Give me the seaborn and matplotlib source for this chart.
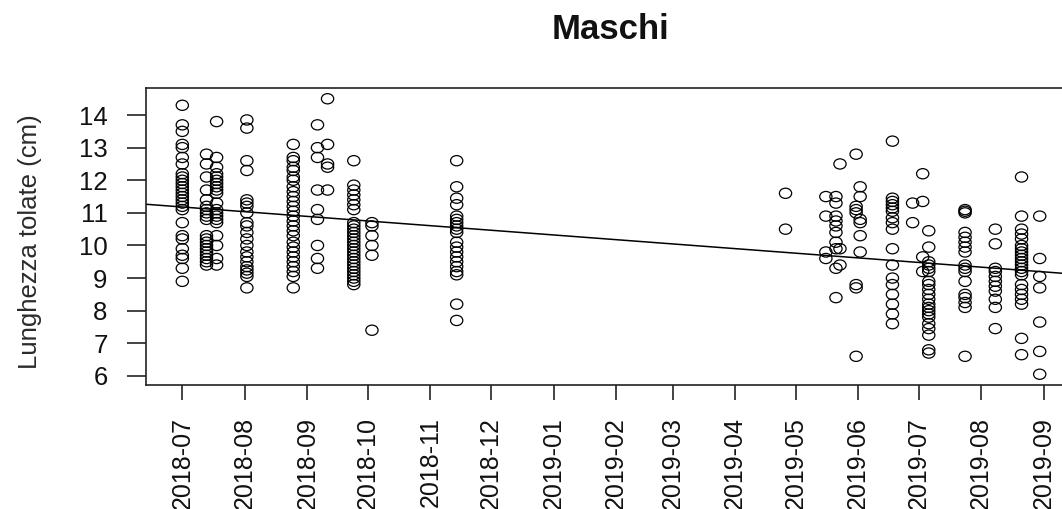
import numpy as np
import pandas as pd
import matplotlib
matplotlib.use("Agg")
import matplotlib.pyplot as plt
import matplotlib.dates as mdates
from matplotlib.path import Path
from matplotlib.transforms import Affine2D
import seaborn as sns

# Sampling dates and total lengths (cm) of the male fish measured on each date
sample_dates = [
    "2018-07-01", "2018-07-13", "2018-07-18", "2018-08-02", "2018-08-25",
    "2018-09-06", "2018-09-11", "2018-09-24", "2018-10-03", "2018-11-14",
    "2019-04-26", "2019-05-16", "2019-05-21", "2019-05-23", "2019-05-31",
    "2019-06-02", "2019-06-18", "2019-06-28", "2019-07-03", "2019-07-06",
    "2019-07-24", "2019-08-08", "2019-08-21", "2019-08-30",
]

len_2018_07_01 = [14.3, 13.7, 13.5, 13.1, 13.0, 12.7, 12.5, 12.2, 12.1, 12.0, 11.9, 11.8,
                  11.7, 11.6, 11.5, 11.4, 11.3, 11.2, 11.1, 10.7, 10.3, 10.2, 9.9, 9.7,
                  9.6, 9.3, 8.9]
len_2018_07_13 = [12.8, 12.5, 12.1, 11.7, 11.4, 11.2, 11.1, 11.0, 10.9, 10.8, 10.3, 10.2,
                  10.1, 10.0, 9.9, 9.8, 9.7, 9.6, 9.5, 9.4]
len_2018_07_18 = [13.8, 12.7, 12.4, 12.2, 12.1, 12.0, 11.9, 11.8, 11.7, 11.6, 11.3, 11.1,
                  11.0, 10.9, 10.8, 10.7, 10.3, 10.0, 9.6, 9.4]
len_2018_08_02 = [13.85, 13.6, 12.6, 12.3, 11.4, 11.3, 11.2, 11.0, 10.7, 10.6, 10.4, 10.2,
                  10.0, 9.8, 9.65, 9.5, 9.35, 9.25, 9.15, 9.05, 8.7]
len_2018_08_25 = [13.1, 12.7, 12.6, 12.4, 12.3, 12.1, 12.0, 11.8, 11.65, 11.5, 11.35, 11.2,
                  11.05, 10.9, 10.75, 10.6, 10.45, 10.3, 10.1, 9.95, 9.8, 9.65, 9.5, 9.35,
                  9.2, 9.05, 8.7]
len_2018_09_06 = [13.7, 13.0, 12.7, 11.7, 11.1, 10.8, 10.0, 9.6, 9.3]
len_2018_09_11 = [14.5, 13.1, 12.5, 12.4, 11.7]
len_2018_09_24 = [12.6, 11.85, 11.7, 11.55, 11.4, 11.25, 11.1, 10.7, 10.6, 10.5, 10.4, 10.3,
                  10.2, 10.1, 10.0, 9.9, 9.8, 9.7, 9.6, 9.5, 9.4, 9.3, 9.2, 9.1, 9.0, 8.9,
                  8.8]
len_2018_10_03 = [10.7, 10.6, 10.3, 10.0, 9.7, 7.4]
len_2018_11_14 = [12.6, 11.8, 11.45, 11.25, 10.9, 10.8, 10.7, 10.6, 10.5, 10.4, 10.1, 9.95,
                  9.8, 9.65, 9.5, 9.35, 9.2, 9.1, 8.2, 7.7]
len_2019_04_26 = [11.6, 10.5]
len_2019_05_16 = [11.5, 10.9, 9.8, 9.6]
len_2019_05_21 = [11.5, 11.3, 10.9, 10.75, 10.6, 10.4, 10.1, 9.9, 9.3, 8.4]
len_2019_05_23 = [12.5, 9.9, 9.4]
len_2019_05_31 = [12.8, 11.2, 11.1, 11.0, 8.8, 8.7, 6.6]
len_2019_06_02 = [11.8, 11.5, 10.8, 10.7, 10.3, 9.8]
len_2019_06_18 = [13.2, 11.45, 11.35, 11.25, 11.15, 11.05, 10.85, 10.7, 10.5, 9.9, 9.4, 9.0,
                  8.8, 8.5, 8.2, 7.9, 7.6]
len_2019_06_28 = [11.3, 10.7]
len_2019_07_03 = [12.2, 11.35, 9.65, 9.2]
len_2019_07_06 = [10.45, 9.95, 9.5, 9.4, 9.3, 9.2, 8.9, 8.8, 8.65, 8.5, 8.35, 8.2, 8.1, 8.0,
                  7.9, 7.8, 7.6, 7.45, 7.25, 6.8, 6.7]
len_2019_07_24 = [11.1, 11.05, 11.0, 10.4, 10.25, 10.1, 9.95, 9.8, 9.4, 9.3, 9.2, 8.9, 8.5,
                  8.4, 8.25, 8.1, 6.6]
len_2019_08_08 = [10.5, 10.05, 9.3, 9.2, 9.05, 8.9, 8.75, 8.6, 8.35, 8.1, 7.45]
len_2019_08_21 = [12.1, 10.9, 10.5, 10.35, 10.2, 10.0, 9.9, 9.8, 9.7, 9.6, 9.5, 9.4, 9.3,
                  9.2, 9.1, 8.8, 8.65, 8.5, 8.35, 8.2, 7.15, 6.65]
len_2019_08_30 = [10.9, 9.6, 9.05, 8.7, 7.65, 6.75, 6.05]

lengths_by_date = [
    len_2018_07_01, len_2018_07_13, len_2018_07_18, len_2018_08_02, len_2018_08_25,
    len_2018_09_06, len_2018_09_11, len_2018_09_24, len_2018_10_03, len_2018_11_14,
    len_2019_04_26, len_2019_05_16, len_2019_05_21, len_2019_05_23, len_2019_05_31,
    len_2019_06_02, len_2019_06_18, len_2019_06_28, len_2019_07_03, len_2019_07_06,
    len_2019_07_24, len_2019_08_08, len_2019_08_21, len_2019_08_30,
]

# Linear trend of length over time (cm at the origin date, cm per day)
trend_origin = "2018-07-01"
trend_intercept = 11.18
trend_slope = -0.00466

title_text = "Maschi"
y_label_text = "Lunghezza tolate (cm)"
y_ticks = [6, 7, 8, 9, 10, 11, 12, 13, 14]
x_limits = ("2018-06-13", "2019-09-16")
y_limits = (5.72, 14.83)

# Long-format table for seaborn
df = pd.DataFrame({
    "data": np.repeat(pd.to_datetime(sample_dates), [len(v) for v in lengths_by_date]),
    "lunghezza": np.concatenate(lengths_by_date),
})

sns.set_style("ticks")
plt.rcParams["font.family"] = ["Liberation Sans", "DejaVu Sans"]
ink = "#111111"

W, H = 1062, 509
fig = plt.figure(figsize=(W / 100, H / 100), dpi=100)
fig.patch.set_facecolor("white")
ax = fig.add_axes([146 / W, (H - 385) / H, 928 / W, 297 / H])

# Slightly wide open ellipse marker
ring = Path.unit_circle().transformed(Affine2D().scale(1.2, 1.0))

sns.scatterplot(data=df, x="data", y="lunghezza", ax=ax, marker=ring, s=78,
                facecolor="none", edgecolor="black", linewidth=0.9, legend=False)

# Trend line across the whole plotting region
x0, x1 = pd.to_datetime(x_limits[0]), pd.to_datetime(x_limits[1])
line_x = pd.to_datetime([x0, x1])
days = (line_x - pd.to_datetime(trend_origin)).days.to_numpy()
line_y = trend_intercept + trend_slope * days
ax.plot(line_x, line_y, color="black", linewidth=1.1)

ax.set_xlim(x0, x1)
ax.set_ylim(*y_limits)
ax.set_yticks(y_ticks)
ax.xaxis.set_major_locator(mdates.MonthLocator())
ax.xaxis.set_major_formatter(mdates.DateFormatter("%Y-%m"))

ax.tick_params(axis="x", direction="out", length=10.8, width=1.1, pad=12.5,
               labelsize=18, labelrotation=90, colors=ink)
ax.tick_params(axis="y", direction="out", length=13.7, width=1.1, pad=14,
               labelsize=18.5, colors=ink)
for lbl in ax.get_xticklabels():
    lbl.set_horizontalalignment("center")
    lbl.set_verticalalignment("top")

for sp in ax.spines.values():
    sp.set_visible(True)
    sp.set_linewidth(1.2)
    sp.set_color("#222222")

ax.set_xlabel("")
ax.set_ylabel(y_label_text, fontsize=18.5, color="#2a2a2a")
ax.yaxis.set_label_coords((42 - 146) / 928, (385 - 242) / 297)

ax.set_title(title_text, fontsize=25, fontweight="bold", color=ink, pad=35)

fig.savefig("out.png", dpi=100)
